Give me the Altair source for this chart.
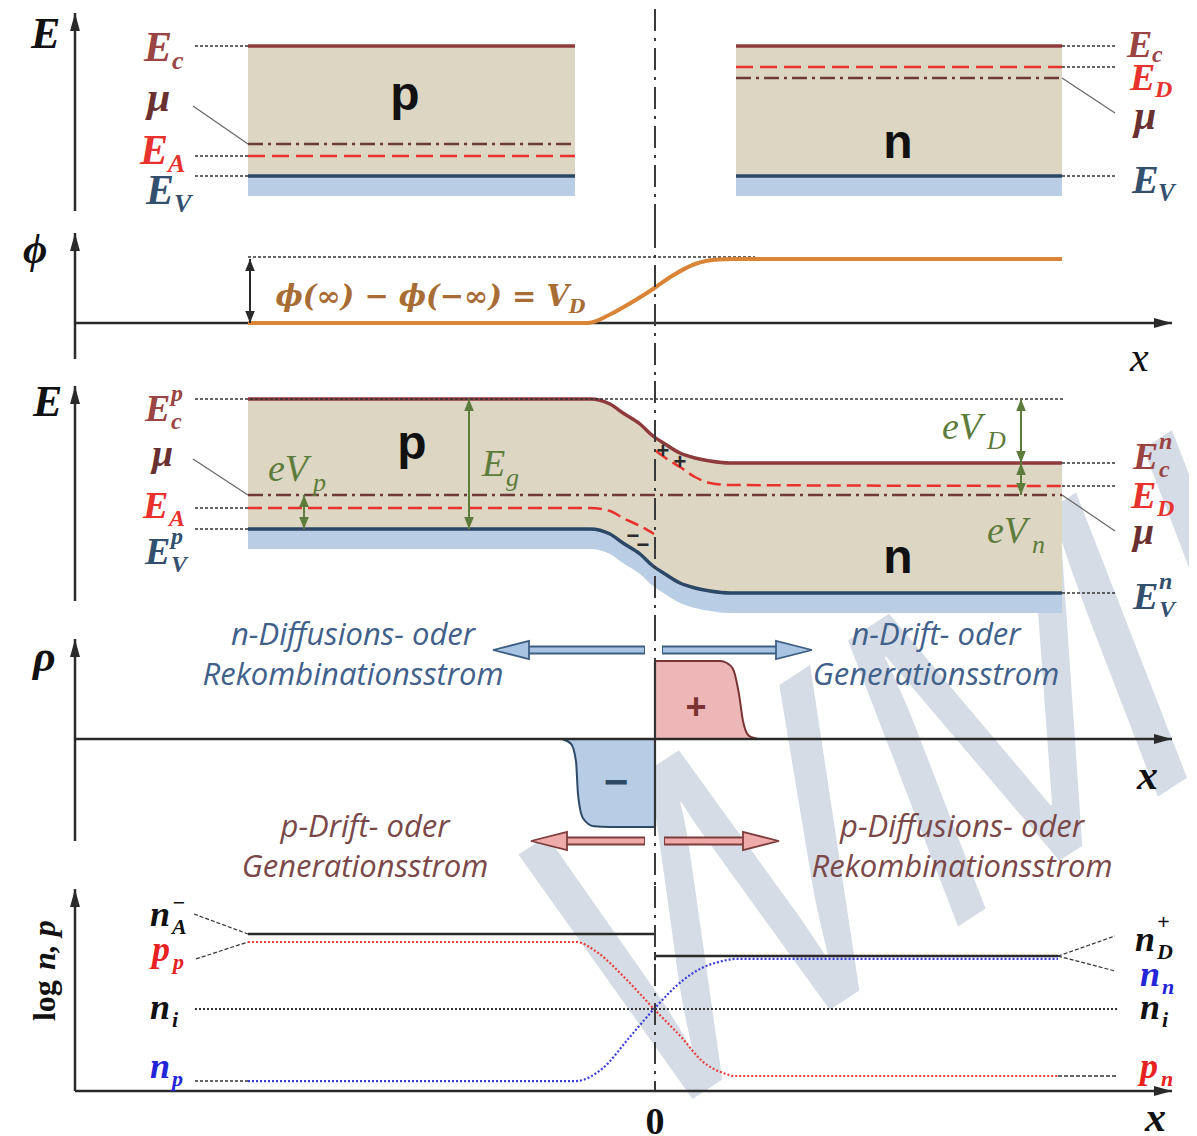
import altair as alt
import pandas as pd

# ------------------------------------------------------------------ data
# horizontal position (a.u.), pn junction at x = 0
X_P_ALONE = [-4.07, -0.80]          # separated p crystal
X_N_ALONE = [0.81, 4.07]            # separated n crystal
X_BULK = [-4.07, 4.07]              # joined crystal

# panel 1: separated crystals (energies, a.u.)
P_LEV = {"Ec": 1.30, "mu": 0.32, "EA": 0.20, "Ev": 0.00}
N_LEV = {"Ec": 1.30, "ED": 1.09, "mu": 0.98, "Ev": 0.00}
VB_LOW = -0.20

# panel 2: potential
PHI_X = [-4.07, -0.67, -0.44, -0.21, -0.02, 0.17, 0.40, 0.63, 0.78, 4.07]
PHI_Y = [0.00, 0.00, 0.09, 0.22, 0.34, 0.47, 0.59, 0.635, 0.64, 0.64]
V_D = 0.64

# panel 3: band bending
BAND_X = [-4.07, -0.65, -0.45, -0.32, -0.15, -0.02, 0.10, 0.25, 0.40, 0.55, 0.75, 4.07]
EC = [1.30, 1.30, 1.25, 1.16, 1.05, 0.93, 0.85, 0.76, 0.71, 0.68, 0.66, 0.66]
EV = [0.00, 0.00, -0.05, -0.14, -0.25, -0.37, -0.45, -0.54, -0.59, -0.62, -0.64, -0.64]
EV_LOW = [-0.20, -0.20, -0.25, -0.34, -0.45, -0.57, -0.65, -0.74, -0.79, -0.82, -0.84, -0.84]
MU = 0.34
EA_X = [-4.07, -0.65, -0.45, -0.32, -0.15, -0.01]
EA_Y = [0.21, 0.21, 0.18, 0.11, 0.03, -0.05]
ED_X = [0.01, 0.12, 0.25, 0.40, 0.55, 0.75, 4.07]
ED_Y = [0.78, 0.70, 0.62, 0.52, 0.46, 0.44, 0.43]

# panel 4: space charge density
RHO_NEG_X = [-0.93, -0.84, -0.79, -0.77, -0.72, -0.61, -0.45, 0.0]
RHO_NEG = [0.0, -0.06, -0.28, -0.69, -0.99, -1.09, -1.10, -1.10]
RHO_POS_X = [0.0, 0.65, 0.72, 0.78, 0.84, 0.88, 0.94, 1.04]
RHO_POS = [0.975, 0.975, 0.95, 0.875, 0.56, 0.225, 0.04, 0.0]
# current arrows: (rho level, start, tip)
ARROWS_BLUE = [(1.1125, -0.10, -1.62), (1.1125, 0.07, 1.57)]
ARROWS_PINK = [(-1.275, -0.10, -1.24), (-1.275, 0.09, 1.24)]
TEXT_TOP_L = ["n-Diffusions- oder", "Rekombinationsstrom"]
TEXT_TOP_R = ["n-Drift- oder", "Generationsstrom"]
TEXT_BOT_L = ["p-Drift- oder", "Generationsstrom"]
TEXT_BOT_R = ["p-Diffusions- oder", "Rekombinationsstrom"]

# panel 5: log of carrier densities
LOG_NI = 10.0
LOG_NA = 14.48
LOG_ND = 13.16
P_X = [-4.07, -0.79, -0.57, -0.30, -0.01, 0.27, 0.47, 0.68, 0.80, 4.03]
LOG_P = [14.0, 14.0, 13.35, 11.85, 10.0, 8.27, 6.9, 6.18, 6.0, 6.0]
N_X = [-4.07, -0.79, -0.52, -0.26, -0.01, 0.27, 0.47, 0.68, 0.80, 4.03]
LOG_N = [5.70, 5.70, 6.48, 8.27, 10.0, 11.67, 12.45, 12.87, 12.99, 12.99]

WATERMARK = "WMI"

# ------------------------------------------------------------------ style
SERIF = "Liberation Serif"
SERIF_WIDE = "DejaVu Serif"
SANS = "Liberation Sans"
TEXTF = "Open Sans"
BEIGE = "#DCD6C2"
VBLUE = "#B9CDE4"
EC_COL = "#8E3A3D"
EV_COL = "#2C4866"
MU_COL = "#6E3A38"
RED = "#E8322E"
EC_LBL = "#9A4444"
MU_LBL = "#6A3030"
EV_LBL = "#34506F"
ORANGE = "#D98437"
PHI_TXT = "#A86C35"
GREEN = "#5D7C3C"
NEG_FILL, NEG_EDGE = "#B7CDE5", "#2E4A66"
POS_FILL, POS_EDGE = "#EDB7B7", "#7B3434"
AB_FILL, AB_EDGE = "#A8C4E2", "#3E5F84"
AP_FILL, AP_EDGE = "#EFAAAA", "#7E3C3C"
TXT_BLUE = "#41608A"
TXT_BROWN = "#7A4848"
LOGRED, LOGBLUE = "#E8403A", "#3B3BDD"
LBL_RED, LBL_BLUE = "#E82020", "#2525D8"
DARK = "#2A2A2A"
WM_COL = "#D5DCE6"
DASHDOT = [22, 7, 3, 7]
DOTS = [3, 2]

W = 1181
XD = [-6.47, 5.34]
AX = -5.80
X_TIP = 5.17
L_LEAD, R_LEAD = -4.60, 4.62

UP = "M0,0L0.55,2L-0.55,2Z"
RIGHT = "M0,0L-2,-0.55L-2,0.55Z"
LEFT = "M0,0L2,-0.5L2,0.5Z"
RIGHT_BIG = "M0,0L-2,-0.5L-2,0.5Z"
UP_S = "M0,0L0.8,2L-0.8,2Z"
DOWN_S = "M0,0L0.8,-2L-0.8,-2Z"


def X(f="x"):
    return alt.X(f"{f}:Q", scale=alt.Scale(domain=XD, nice=False, zero=False), axis=None)


def Y(dom, f="y"):
    return alt.Y(f"{f}:Q", scale=alt.Scale(domain=dom, nice=False, zero=False), axis=None)


def curve(xs, ys, dom, color, width, dash=None, interp="monotone"):
    df = pd.DataFrame({"x": xs, "y": ys, "o": list(range(len(xs)))})
    kw = dict(color=color, strokeWidth=width, interpolate=interp, strokeCap="butt")
    if dash is not None:
        kw["strokeDash"] = dash
    return alt.Chart(df).mark_line(**kw).encode(x=X(), y=Y(dom), order="o:Q")


def seg(x1, y1, x2, y2, dom, color, width, dash=None):
    df = pd.DataFrame({"x": [x1], "y": [y1], "x2": [x2], "y2": [y2]})
    kw = dict(color=color, strokeWidth=width, strokeCap="butt")
    if dash is not None:
        kw["strokeDash"] = dash
    return alt.Chart(df).mark_rule(**kw).encode(x=X(), y=Y(dom), x2="x2:Q", y2="y2:Q")


def band(xs, top, bot, dom, color):
    df = pd.DataFrame({"x": xs, "y": top, "y2": bot})
    return alt.Chart(df).mark_area(color=color, interpolate="monotone", opacity=1).encode(
        x=X(), y=Y(dom), y2="y2:Q")


def rect(x1, x2, y1, y2, dom, color):
    df = pd.DataFrame({"x": [x1], "x2": [x2], "y": [y1], "y2": [y2]})
    return alt.Chart(df).mark_rect(color=color).encode(x=X(), x2="x2:Q", y=Y(dom), y2="y2:Q")


def head(x, y, dom, shape, size, fill, stroke=None, sw=0.0):
    df = pd.DataFrame({"x": [x], "y": [y]})
    kw = dict(shape=shape, size=size, fill=fill, filled=True, fillOpacity=1, opacity=1)
    if stroke:
        kw.update(stroke=stroke, strokeWidth=sw, strokeOpacity=1)
    else:
        kw.update(strokeWidth=0)
    return alt.Chart(df).mark_point(**kw).encode(x=X(), y=Y(dom))


def text(x, y, s, dom, size, color, font=SERIF, style="normal", weight="normal",
         align="left", baseline="alphabetic", angle=None, dx=0, dy=0, opacity=1.0, clip=False):
    df = pd.DataFrame({"x": [x], "y": [y], "t": [s]})
    kw = dict(fontSize=size, color=color, font=font, fontStyle=style, fontWeight=weight,
              align=align, baseline=baseline, dx=dx, dy=dy, opacity=opacity)
    if angle is not None:
        kw["angle"] = angle
    if clip:
        kw["clip"] = True
    return alt.Chart(df).mark_text(**kw).encode(x=X(), y=Y(dom), text="t:N")


def mlabel(x, y, dom, base, color, size, sub=None, sup=None, sdx=26, sdy=8, pdy=-20,
           subsize=None, style="italic", weight="bold"):
    subsize = subsize or round(size * 0.62)
    out = [text(x, y, base, dom, size, color, SERIF, style, weight)]
    if sub:
        out.append(text(x, y, sub, dom, subsize, color, SERIF, style, weight, dx=sdx, dy=sdy))
    if sup:
        out.append(text(x, y, sup, dom, subsize, color, SERIF, style, weight, dx=sdx, dy=pdy))
    return out


def vaxis(dom, y0, tip):
    return [seg(AX, y0, AX, tip, dom, DARK, 2.5), head(AX, tip, dom, UP, 324, DARK)]


def haxis(dom, y0):
    return [seg(AX, y0, X_TIP, y0, dom, DARK, 2.5), head(X_TIP, y0, dom, RIGHT, 324, DARK)]


def junction(dom, top, bottom):
    return seg(0, top, 0, bottom, dom, "#3A3A3A", 2, DASHDOT)


def dbl_arrow(x, y1, y2, dom, color, width=2):
    return [seg(x, y1, x, y2, dom, color, width),
            head(x, y2, dom, UP_S, 144, color), head(x, y1, dom, DOWN_S, 144, color)]


# watermark: same spot on the page, drawn clipped inside each lower panel
WM_X = 2.65
WM_SIZE = 420
WM_ANGLE = 327
WM_PAGE_Y = 800


def watermark(dom, y):
    return text(WM_X, y, WATERMARK, dom, WM_SIZE, WM_COL, "Open Sans", style="italic", weight=400,
                align="center", baseline="middle", angle=WM_ANGLE, clip=True)


# ------------------------------------------------------------------ panel 1
D1 = [-0.50, 1.67]
p1 = [
    rect(*X_P_ALONE, P_LEV["Ev"], P_LEV["Ec"], D1, BEIGE),
    rect(*X_P_ALONE, VB_LOW, P_LEV["Ev"], D1, VBLUE),
    rect(*X_N_ALONE, N_LEV["Ev"], N_LEV["Ec"], D1, BEIGE),
    rect(*X_N_ALONE, VB_LOW, N_LEV["Ev"], D1, VBLUE),
]
for xs, lev, dop in [(X_P_ALONE, P_LEV, "EA"), (X_N_ALONE, N_LEV, "ED")]:
    p1 += [
        seg(xs[0], lev["Ec"], xs[1], lev["Ec"], D1, EC_COL, 3.5),
        seg(xs[0], lev["Ev"], xs[1], lev["Ev"], D1, EV_COL, 3.5),
        seg(xs[0], lev["mu"], xs[1], lev["mu"], D1, MU_COL, 2.5, [15, 5, 3, 5]),
        seg(xs[0], lev[dop], xs[1], lev[dop], D1, RED, 2.5, [17, 7]),
    ]
for lv in ["Ec", "EA", "Ev"]:
    p1.append(seg(L_LEAD, P_LEV[lv], X_P_ALONE[0], P_LEV[lv], D1, "#333", 1.5, DOTS))
for lv in ["Ec", "ED", "Ev"]:
    p1.append(seg(X_N_ALONE[1], N_LEV[lv], R_LEAD, N_LEV[lv], D1, "#333", 1.5, DOTS))
p1 += [
    seg(-4.62, 0.70, X_P_ALONE[0], P_LEV["mu"], D1, "#666", 1.2),
    seg(X_N_ALONE[1], N_LEV["mu"], 4.60, 0.63, D1, "#666", 1.2),
    junction(D1, D1[1], D1[0]),
    text(-2.50, 0.66, "p", D1, 48, "#111", SANS, weight="bold", align="center"),
    text(2.43, 0.18, "n", D1, 48, "#111", SANS, weight="bold", align="center"),
    text(-6.24, 1.28, "E", D1, 44, "#111", SERIF, "italic", "bold"),
]
p1 += vaxis(D1, -0.35, 1.63)
p1 += mlabel(-5.11, 1.15, D1, "E", EC_LBL, 42, sub="c", sdx=28)
p1 += mlabel(-5.08, 0.65, D1, "μ", MU_LBL, 42)
p1 += mlabel(-5.15, 0.12, D1, "E", RED, 42, sub="A", sdx=28)
p1 += mlabel(-5.09, -0.28, D1, "E", EV_LBL, 42, sub="V", sdx=28)
p1 += mlabel(4.72, 1.19, D1, "E", EC_LBL, 38, sub="c", sdx=25, sdy=5)
p1 += mlabel(4.75, 0.86, D1, "E", RED, 38, sub="D", sdx=25, sdy=7)
p1 += mlabel(4.79, 0.47, D1, "μ", MU_LBL, 40)
p1 += mlabel(4.77, -0.17, D1, "E", EV_LBL, 40, sub="V", sdx=26)
panel1 = alt.layer(*p1).properties(width=W, height=217)

# ------------------------------------------------------------------ panel 2
D2 = [-0.58, 0.97]
p2 = []
p2 += haxis(D2, 0.0)
p2 += vaxis(D2, -0.36, 0.90)
p2 += [
    seg(X_BULK[0], 0.66, 1.0, 0.66, D2, "#333", 1.5, DOTS),
    curve(PHI_X, PHI_Y, D2, ORANGE, 4),
    junction(D2, D2[1], D2[0]),
    text(-0.86, 0.17, "ϕ(∞) − ϕ(−∞) = V", D2, 29, PHI_TXT, SERIF_WIDE, "italic", "bold", align="right"),
    text(-0.86, 0.17, "D", D2, 19, PHI_TXT, SERIF_WIDE, "italic", "bold", dy=7),
    text(-6.32, 0.60, "ϕ", D2, 42, "#111", SERIF, "italic", "bold"),
    text(4.75, -0.48, "x", D2, 42, "#111", SERIF, "italic"),
]
p2 += [seg(-4.05, 0.0, -4.05, V_D, D2, DARK, 2),
       head(-4.05, V_D, D2, UP_S, 144, DARK), head(-4.05, 0.0, D2, DOWN_S, 144, DARK)]
panel2 = alt.layer(*p2).properties(width=W, height=155)

# ------------------------------------------------------------------ panel 3
D3 = [-0.90, 1.48]
p3 = [
    watermark(D3, (528 - WM_PAGE_Y) / 100),
    band(BAND_X, EC, EV, D3, BEIGE),
    band(BAND_X, EV, EV_LOW, D3, VBLUE),
    seg(X_BULK[0], MU, X_BULK[1], MU, D3, MU_COL, 2.5, [15, 5, 3, 5]),
    curve(EA_X, EA_Y, D3, RED, 2.5, [14, 6]),
    curve(ED_X, ED_Y, D3, RED, 2.5, [14, 6]),
    curve(BAND_X, EC, D3, EC_COL, 3.5),
    curve(BAND_X, EV, D3, EV_COL, 3.5),
    seg(L_LEAD, EC[0], 4.10, EC[0], D3, "#333", 1.5, DOTS),
    seg(L_LEAD, EA_Y[0], X_BULK[0], EA_Y[0], D3, "#333", 1.5, DOTS),
    seg(L_LEAD, EV[0], X_BULK[0], EV[0], D3, "#333", 1.5, DOTS),
    seg(X_BULK[1], EC[-1], R_LEAD, EC[-1], D3, "#333", 1.5, DOTS),
    seg(X_BULK[1], ED_Y[-1], R_LEAD, ED_Y[-1], D3, "#333", 1.5, DOTS),
    seg(X_BULK[1], EV[-1], R_LEAD, EV[-1], D3, "#333", 1.5, DOTS),
    seg(-4.62, 0.70, X_BULK[0], MU, D3, "#666", 1.2),
    seg(X_BULK[1], MU, 4.60, -0.02, D3, "#666", 1.2),
    junction(D3, D3[1], D3[0]),
    text(-2.43, 0.70, "p", D3, 48, "#111", SANS, weight="bold", align="center"),
    text(2.43, -0.44, "n", D3, 48, "#111", SANS, weight="bold", align="center"),
    text(-6.22, 1.13, "E", D3, 44, "#111", SERIF, "italic", "bold"),
    text(0.08, 0.78, "+", D3, 22, DARK, SANS, weight="bold", align="center", baseline="middle"),
    text(0.25, 0.67, "+", D3, 22, DARK, SANS, weight="bold", align="center", baseline="middle"),
    text(-0.22, -0.07, "−", D3, 22, DARK, SANS, weight="bold", align="center", baseline="middle"),
    text(-0.12, -0.16, "−", D3, 22, DARK, SANS, weight="bold", align="center", baseline="middle"),
]
p3 += vaxis(D3, -0.72, 1.43)
p3 += dbl_arrow(-1.86, EV[0], EC[0], D3, GREEN)
p3 += dbl_arrow(-3.51, EV[0], MU, D3, GREEN)
p3 += dbl_arrow(3.66, EC[-1], EC[0], D3, GREEN)
p3 += dbl_arrow(3.66, MU, EC[-1], D3, GREEN)
p3 += mlabel(-3.87, 0.48, D3, "eV", GREEN, 38, sub="p", sdx=45, sdy=10, subsize=26, weight="normal")
p3 += mlabel(-1.73, 0.53, D3, "E", GREEN, 38, sub="g", sdx=24, sdy=10, subsize=26, weight="normal")
p3 += mlabel(2.87, 0.90, D3, "eV", GREEN, 38, sub="D", sdx=45, sdy=10, subsize=26, weight="normal")
p3 += mlabel(3.32, -0.14, D3, "eV", GREEN, 38, sub="n", sdx=45, sdy=10, subsize=26, weight="normal")
p3 += mlabel(-5.10, 1.08, D3, "E", EC_LBL, 38, sub="c", sup="p", sdx=26)
p3 += mlabel(-5.03, 0.63, D3, "μ", MU_LBL, 38)
p3 += mlabel(-5.12, 0.11, D3, "E", RED, 38, sub="A", sdx=26)
p3 += mlabel(-5.10, -0.35, D3, "E", EV_LBL, 38, sub="V", sup="p", sdx=26)
p3 += mlabel(4.78, 0.60, D3, "E", EC_LBL, 38, sub="c", sup="n", sdx=26)
p3 += mlabel(4.76, 0.21, D3, "E", RED, 38, sub="D", sdx=26)
p3 += mlabel(4.78, -0.15, D3, "μ", MU_LBL, 38)
p3 += mlabel(4.78, -0.80, D3, "E", EV_LBL, 38, sub="V", sup="n", sdx=26)
panel3 = alt.layer(*p3).properties(width=W, height=238)

# ------------------------------------------------------------------ panel 4
D4 = [-1.8375, 1.5]
p4 = [
    watermark(D4, (738 - WM_PAGE_Y) / 80),
    band(RHO_NEG_X, RHO_NEG, [0.0] * len(RHO_NEG), D4, NEG_FILL),
    band(RHO_POS_X, RHO_POS, [0.0] * len(RHO_POS), D4, POS_FILL),
    curve(RHO_NEG_X, RHO_NEG, D4, NEG_EDGE, 2),
    curve(RHO_POS_X, RHO_POS, D4, POS_EDGE, 2),
    junction(D4, D4[1], D4[0]),
    seg(0, RHO_NEG[-1], 0, RHO_POS[0], D4, "#333", 2.2),
    text(-0.39, -0.55, "−", D4, 42, NEG_EDGE, SANS, weight="bold", align="center", baseline="middle"),
    text(0.41, 0.39, "+", D4, 36, POS_EDGE, SANS, weight="bold", align="center", baseline="middle"),
    text(-6.22, 0.85, "ρ", D4, 44, "#111", SERIF, "italic", "bold"),
    text(4.82, -0.625, "x", D4, 42, "#111", SERIF, "italic", "bold"),
]
p4 += haxis(D4, 0.0)
p4 += vaxis(D4, -1.275, 1.25)
for arrows, fill, edge in [(ARROWS_BLUE, AB_FILL, AB_EDGE), (ARROWS_PINK, AP_FILL, AP_EDGE)]:
    for y, x0, tip in arrows:
        sgn = 1 if tip > x0 else -1
        base_x = tip - sgn * 0.34
        p4 += [seg(x0, y, base_x, y, D4, edge, 9),
               seg(x0 + 0.01 * sgn, y, base_x + 0.02 * sgn, y, D4, fill, 5),
               head(tip, y, D4, RIGHT_BIG if sgn > 0 else LEFT, 1296, fill, edge, 1.8)]
for lines, cx, col, ys in [(TEXT_TOP_L, -3.02, TXT_BLUE, [1.2875, 0.7875]),
                           (TEXT_TOP_R, 2.81, TXT_BLUE, [1.2875, 0.7875]),
                           (TEXT_BOT_L, -2.90, TXT_BROWN, [-1.1125, -1.6125]),
                           (TEXT_BOT_R, 3.07, TXT_BROWN, [-1.1125, -1.6125])]:
    for s, y in zip(lines, ys):
        p4.append(text(cx, y, s, D4, 31, col, TEXTF, "italic", align="center", baseline="middle"))
panel4 = alt.layer(*p4).properties(width=W, height=267)

# ------------------------------------------------------------------ panel 5
D5 = [2.836, 17.343]
Y_AX5 = 5.104
p5 = [
    watermark(D5, 10 + (1008 - WM_PAGE_Y) / 16.75),
    seg(L_LEAD, LOG_NI, R_LEAD, LOG_NI, D5, "#333", 1.8, [2, 2]),
    seg(X_BULK[0], LOG_NA, 0, LOG_NA, D5, DARK, 2.5),
    seg(0, LOG_ND, P_X[-1], LOG_ND, D5, DARK, 2.5),
    seg(0, LOG_ND - 0.25, 0, LOG_ND + 0.25, D5, DARK, 2),
    curve(P_X, LOG_P, D5, LOGRED, 2.2, [2, 2]),
    curve(N_X, LOG_N, D5, LOGBLUE, 2.2, [2, 2]),
    seg(-4.61, 15.67, X_BULK[0], LOG_NA, D5, "#333", 1.2, [4, 2]),
    seg(-4.59, 12.99, X_BULK[0], LOG_P[0], D5, "#333", 1.2, [4, 2]),
    seg(L_LEAD, LOG_N[0], X_BULK[0], LOG_N[0], D5, "#333", 1.5, [3, 2]),
    seg(P_X[-1], LOG_ND, 4.60, 14.36, D5, "#333", 1.2, [4, 2]),
    seg(P_X[-1], LOG_ND, 4.60, 12.27, D5, "#333", 1.2, [4, 2]),
    seg(P_X[-1], LOG_P[-1], R_LEAD, LOG_P[-1], D5, "#333", 1.5, [4, 2]),
    junction(D5, D5[1], Y_AX5),
    text(-6.10, 9.28, "log", D5, 32, "#111", SERIF, weight="bold", align="left",
         baseline="middle", angle=270),
    text(-6.10, 12.33, "n, p", D5, 32, "#111", SERIF, style="italic", weight="bold", align="left",
         baseline="middle", angle=270),
    text(0.0, 2.54, "0", D5, 38, "#111", SERIF, weight="bold", align="center"),
    text(4.90, 2.72, "x", D5, 42, "#111", SERIF, "italic", "bold"),
]
p5 += haxis(D5, Y_AX5)
p5 += vaxis(D5, Y_AX5, 17.16)
p5 += mlabel(-5.05, 14.96, D5, "n", "#111", 36, sub="A", sup="−", sdx=22, sdy=8, pdy=-16, subsize=22)
p5 += mlabel(-5.03, 12.87, D5, "p", LBL_RED, 36, sub="p", sdx=21, sdy=8, subsize=22)
p5 += mlabel(-5.05, 9.40, D5, "n", "#111", 36, sub="i", sdx=22, sdy=8, subsize=22)
p5 += mlabel(-5.05, 5.88, D5, "n", LBL_BLUE, 36, sub="p", sdx=22, sdy=8, subsize=22)
p5 += mlabel(4.80, 13.46, D5, "n", "#111", 36, sub="D", sup="+", sdx=22, sdy=8, pdy=-22, subsize=22)
p5 += mlabel(4.85, 11.37, D5, "n", LBL_BLUE, 36, sub="n", sdx=22, sdy=8, subsize=22)
p5 += mlabel(4.85, 9.40, D5, "n", "#111", 36, sub="i", sdx=22, sdy=8, subsize=22)
p5 += mlabel(4.85, 5.88, D5, "p", LBL_RED, 36, sub="n", sdx=21, sdy=8, subsize=22)
panel5 = alt.layer(*p5).properties(width=W, height=243)

chart = (
    alt.vconcat(panel1, panel2, panel3, panel4, panel5, spacing=0, bounds="flush")
    .resolve_scale(x="independent", y="independent")
    .properties(padding=0)
    .configure_view(stroke=None)
)
chart.save("out.html", embed_options={"renderer": "svg", "actions": False})
